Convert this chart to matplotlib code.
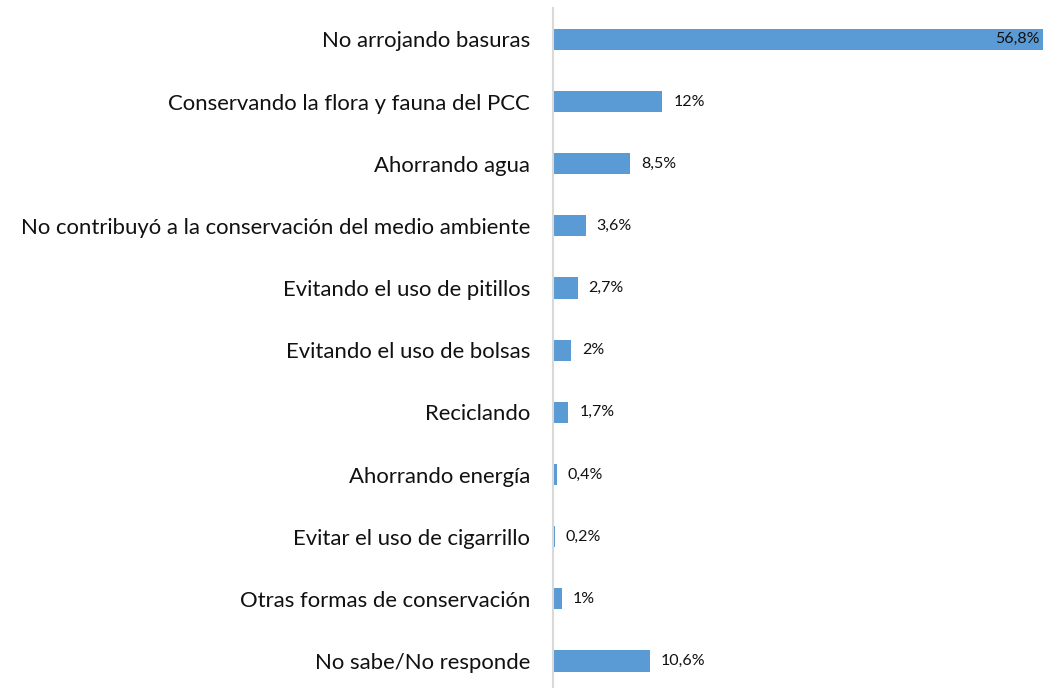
import matplotlib.pyplot as plt

categorias = [
    "No arrojando basuras",
    "Conservando la flora y fauna del PCC",
    "Ahorrando agua",
    "No contribuyó a la conservación del medio ambiente",
    "Evitando el uso de pitillos",
    "Evitando el uso de bolsas",
    "Reciclando",
    "Ahorrando energía",
    "Evitar el uso de cigarrillo",
    "Otras formas de conservación",
    "No sabe/No responde",
]
valores = [56.8, 12, 8.5, 3.6, 2.7, 2, 1.7, 0.4, 0.2, 1, 10.6]
etiquetas = ["56,8%", "12%", "8,5%", "3,6%", "2,7%", "2%", "1,7%", "0,4%", "0,2%", "1%", "10,6%"]

plt.rcParams['font.family'] = ['Lato', 'DejaVu Sans']

fig = plt.figure(figsize=(10.43, 6.88), dpi=100)
ax = fig.add_axes([553 / 1043, -0.006, 1 - 553 / 1043, 0.994])

pos = list(range(len(categorias)))
ax.barh(pos, valores, height=0.34, color='#5b9bd5')
ax.set_ylim(len(categorias) - 0.5, -0.5)
ax.set_xlim(0, 53.8)

for i, (v, t) in enumerate(zip(valores, etiquetas)):
    if v > 50:
        ax.text(0.993, i, t, transform=ax.get_yaxis_transform(), ha='right',
                va='center', fontsize=11.5, color='#111111')
    else:
        ax.text(v + 1.2, i, t, ha='left', va='center', fontsize=11.5, color='#111111')

ax.set_yticks(pos)
ax.set_yticklabels(categorias, fontsize=15.9, color='#111111')
ax.tick_params(axis='y', length=0, pad=16.5)
ax.set_xticks([])
for s in ['top', 'right', 'bottom']:
    ax.spines[s].set_visible(False)
ax.spines['left'].set_color('#d9d9d9')
ax.spines['left'].set_linewidth(1.5)

fig.savefig('out.png', dpi=100)
